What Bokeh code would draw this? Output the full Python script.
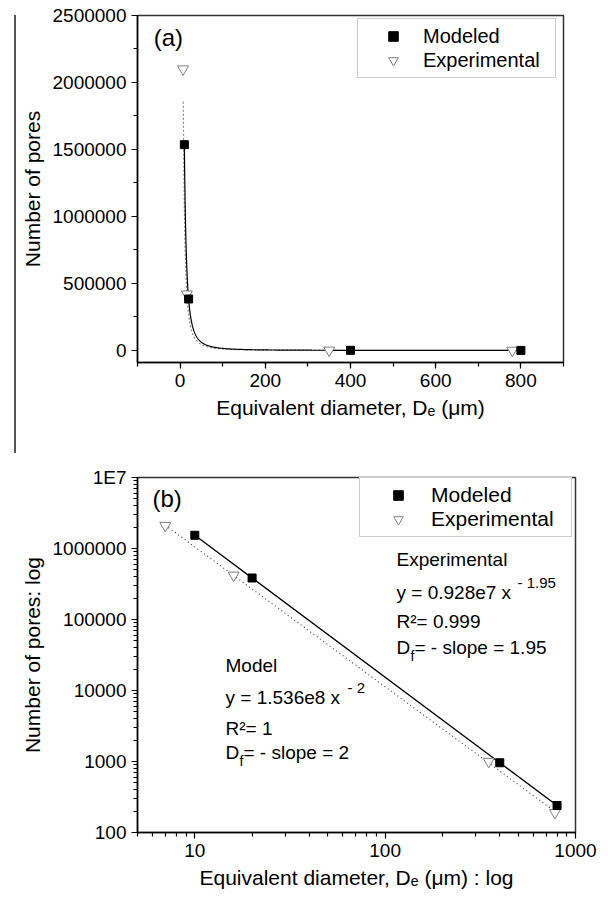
import numpy as np
from bokeh.plotting import figure
from bokeh.models import (Range1d, SingleIntervalTicker, FixedTicker, BasicTickFormatter,
                          Legend, LegendItem, Div)
from bokeh.layouts import column, row
from bokeh.embed import file_html
from bokeh.resources import INLINE
from bokeh.core.properties import value

# ---------------- data ----------------
mod_x = [10, 20, 400, 800]
mod_y = [1536000, 384000, 960, 240]
exp_x = [7, 16, 350, 780]
exp_y = [2100000, 420000, 1000, 190]

xb_ticks = [10, 100, 1000]
xb_labels = ["10", "100", "1000"]
yb_ticks = [100, 1000, 10000, 100000, 1000000, 10000000]
yb_labels = ["100", "1000", "10000", "100000", "1000000", "1E7"]

FONT = "Liberation Sans"

# power-law fits from the data (log-log regression)
sm, im = np.polyfit(np.log10(mod_x), np.log10(mod_y), 1)
se, ie = np.polyfit(np.log10(exp_x), np.log10(exp_y), 1)


def style(p):
    p.grid.visible = False
    p.outline_line_color = "#333333"
    p.outline_line_width = 1.5
    p.background_fill_color = "white"
    p.border_fill_color = "white"
    for ax in (p.xaxis[0], p.yaxis[0]):
        ax.axis_line_color = "black"
        ax.axis_line_width = 1.5
        ax.major_tick_line_color = "black"
        ax.minor_tick_line_color = "black"
        ax.major_tick_line_width = 1.2
        ax.minor_tick_line_width = 1.2
        ax.major_tick_in = 0
        ax.major_tick_out = 6
        ax.minor_tick_in = 0
        ax.minor_tick_out = 4
        ax.major_label_text_font = FONT
        ax.major_label_text_font_size = "19px"
        ax.major_label_text_color = "black"
        ax.axis_label_text_font = FONT
        ax.axis_label_text_font_size = "21px"
        ax.axis_label_text_font_style = "normal"
        ax.axis_label_text_color = "black"
        ax.axis_label_standoff = 6
        ax.major_label_standoff = 5


def make_legend(p, r_mod, r_exp, loc, glyph_w, label_w, fs):
    lg = Legend(items=[LegendItem(label="Modeled", renderers=[r_mod]),
                       LegendItem(label="Experimental", renderers=[r_exp])],
                location=loc, padding=5, spacing=0,
                glyph_width=glyph_w, glyph_height=24, label_height=24,
                label_standoff=0, label_width=label_w,
                label_text_font=FONT, label_text_font_size=fs,
                label_text_color="black",
                border_line_color="#999999", border_line_width=1,
                background_fill_color="white", background_fill_alpha=1.0)
    p.add_layout(lg)


# ---------------- panel (a) ----------------
pa = figure(width=592, height=453, x_range=Range1d(-100, 900),
            y_range=Range1d(-90000, 2500000), output_backend="svg",
            toolbar_location=None, min_border_left=121, min_border_right=45,
            min_border_top=15, min_border_bottom=91)
style(pa)
pa.xaxis.ticker = SingleIntervalTicker(interval=200, num_minor_ticks=2)
pa.yaxis.ticker = SingleIntervalTicker(interval=500000, num_minor_ticks=2)
pa.xaxis.formatter = BasicTickFormatter(use_scientific=False)
pa.yaxis.formatter = BasicTickFormatter(use_scientific=False)
pa.xaxis.axis_label = "Equivalent diameter, D\u2091 (\u03bcm)"
pa.yaxis.axis_label = "Number of pores"

xa_exp = np.geomspace(7.5, 800, 500)
pa.line(xa_exp, 10 ** ie * xa_exp ** se, line_color="#888888", line_width=1.2,
        line_dash="2 2")
xa_mod = np.geomspace(mod_x[0], mod_x[-1], 500)
pa.line(xa_mod, 10 ** im * xa_mod ** sm, line_color="black", line_width=1.2)
ra_exp = pa.scatter(exp_x, exp_y, marker="inverted_triangle", size=11,
                    fill_color="white", line_color="#808080", line_width=1)
ra_mod = pa.scatter(mod_x, mod_y, marker="square", size=8,
                    fill_color="black", line_color="black")
pa.text(x=[-62], y=[2335000], text=["(a)"], text_font=value(FONT),
        text_font_size="24px", text_baseline="middle", text_align="left")
make_legend(pa, ra_mod, ra_exp, (220, 284), 60, 127, "20px")

# thin vertical rule at the far left of the upper panel (as in the source page)
rule = Div(text='<div style="position:relative; left:14px; top:15px; width:2px; '
                'height:438px; background:#555555;"></div>',
           width=16, height=453, margin=0)
spacer = Div(text="", width=16, height=450, margin=0)

# ---------------- panel (b) ----------------
pb = figure(width=592, height=450, x_axis_type="log", y_axis_type="log",
            x_range=Range1d(5, 1000), y_range=Range1d(100, 1e7),
            output_backend="svg", toolbar_location=None,
            min_border_left=121, min_border_right=33, min_border_top=24,
            min_border_bottom=71)
style(pb)
pb.xaxis.ticker = FixedTicker(ticks=xb_ticks,
                              minor_ticks=[m * 10 ** k for k in range(0, 3) for m in range(2, 10)])
pb.yaxis.ticker = FixedTicker(ticks=yb_ticks,
                              minor_ticks=[m * 10 ** k for k in range(2, 7) for m in range(2, 10)])
pb.xaxis.major_label_overrides = dict(zip(xb_ticks, xb_labels))
pb.yaxis.major_label_overrides = dict(zip(yb_ticks, yb_labels))
pb.xaxis.axis_label = "Equivalent diameter, D\u2091 (\u03bcm) : log"
pb.yaxis.axis_label = "Number of pores: log"

xb_exp = np.array([exp_x[0], exp_x[-1]], dtype=float)
pb.line(xb_exp, 10 ** ie * xb_exp ** se, line_color="#444444", line_width=1.2,
        line_dash="1 3")
xb_mod = np.array([mod_x[0], mod_x[-1]], dtype=float)
pb.line(xb_mod, 10 ** im * xb_mod ** sm, line_color="black", line_width=1.3)
rb_exp = pb.scatter(exp_x, exp_y, marker="inverted_triangle", size=11,
                    fill_color="white", line_color="#808080", line_width=1)
rb_mod = pb.scatter(mod_x, mod_y, marker="square", size=8,
                    fill_color="black", line_color="black")
make_legend(pb, rb_mod, rb_exp, (222, 295), 66, 135, "21px")

# pixel -> data helpers for placing annotation text in panel (b)
LX0, LX1 = np.log10(5), 3.0


def bx(px):
    return 10 ** (LX0 + (px - 137) / (575 - 137) * (LX1 - LX0))


def by(py):
    return 10 ** (7 - (py - 477) / (832 - 477) * 5)


def txt(p, px, py, s, fs):
    p.text(x=[bx(px)], y=[by(py)], text=[s], text_font=value(FONT),
           text_font_size=fs, text_baseline="middle", text_align="left",
           text_color="black")


txt(pb, 152, 498, "(b)", "24px")
# experimental block
txt(pb, 396, 559, "Experimental", "19px")
txt(pb, 396, 592, "y = 0.928e7 x", "19px")
txt(pb, 517, 582, "- 1.95", "15px")
txt(pb, 396, 621, "R\u00b2= 0.999", "19px")
txt(pb, 396, 647, "D", "19px")
txt(pb, 410, 655, "f", "14px")
txt(pb, 414, 647, "= - slope = 1.95", "19px")
# model block
txt(pb, 225, 665, "Model", "19px")
txt(pb, 225, 697, "y = 1.536e8 x", "19px")
txt(pb, 347, 687, "- 2", "15px")
txt(pb, 225, 728, "R\u00b2= 1", "19px")
txt(pb, 225, 752, "D", "19px")
txt(pb, 239, 760, "f", "14px")
txt(pb, 243, 752, "= - slope = 2", "19px")

layout = column(row(rule, pa, spacing=0), row(spacer, pb, spacing=0), spacing=0)
open("out.html", "w").write(file_html(layout, INLINE))
